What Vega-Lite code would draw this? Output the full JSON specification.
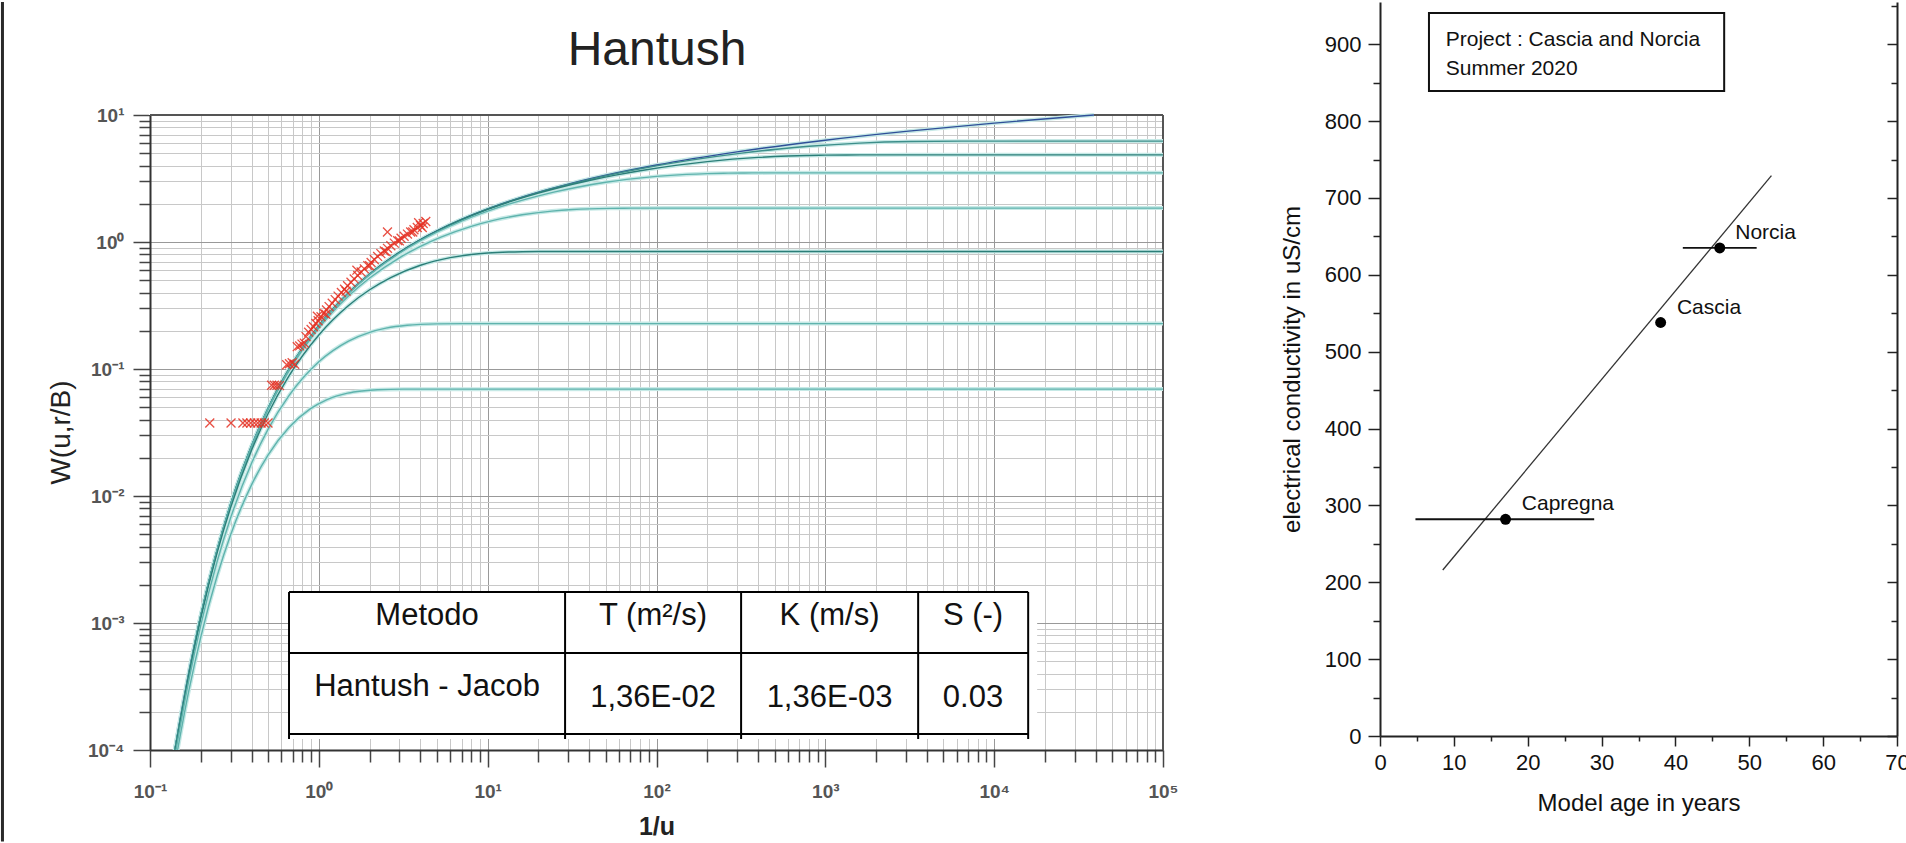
{
  "$schema": "https://vega.github.io/schema/vega-lite/v6.json",
  "background": "white",
  "padding": {"left": 0, "top": 0, "right": 0, "bottom": 0},
  "spacing": 101,
  "config": {"font": "Liberation Sans", "view": {"stroke": null}},
  "datasets": {
    "edge": [{"x": 0.01337, "y": 0.000019, "y2": 77.6}],
    "tbg": [{"x": 0.666, "x2": 17975, "y": 0.0001221, "y2": 0.001754}],
    "cover": [{"x": 0.0985, "x2": 103000, "y": 10, "y2": 77.6}],
    "frame": [{"x": 0.1, "x2": 100000, "y": 10, "y2": 10}, {"x": 100000, "x2": 100000, "y": 0.0001, "y2": 10}],
    "ttl": [{"x": 100.8, "y": 24.76, "t": "Hantush"}],
    "tlines": [
      {"x": 0.666, "x2": 15900, "y": 0.001754, "y2": 0.001754},
      {"x": 0.666, "x2": 15900, "y": 0.000581, "y2": 0.000581},
      {"x": 0.666, "x2": 15900, "y": 0.0001336, "y2": 0.0001336},
      {"x": 0.666, "x2": 0.666, "y": 0.0001221, "y2": 0.001754},
      {"x": 28.74, "x2": 28.74, "y": 0.0001221, "y2": 0.001754},
      {"x": 317, "x2": 317, "y": 0.0001221, "y2": 0.001754},
      {"x": 3546, "x2": 3546, "y": 0.0001221, "y2": 0.001754},
      {"x": 15900, "x2": 15900, "y": 0.0001221, "y2": 0.001754}
    ],
    "ttext": [
      {"x": 4.375, "y": 0.000965, "t": "Metodo"},
      {"x": 95.4, "y": 0.000965, "t": "T (m²/s)"},
      {"x": 1059, "y": 0.000965, "t": "K (m/s)"},
      {"x": 7494, "y": 0.000965, "t": "S (-)"},
      {"x": 4.375, "y": 0.000266, "t": "Hantush - Jacob"},
      {"x": 95.4, "y": 0.000218, "t": "1,36E-02"},
      {"x": 1059, "y": 0.000218, "t": "1,36E-03"},
      {"x": 7494, "y": 0.000218, "t": "0.03"}
    ],
    "curves": [
      {"curve": "Theis", "x": 0.14, "y": 0.0000983}, {"curve": "Theis", "x": 0.15, "y": 0.0001683}, {"curve": "Theis", "x": 0.17, "y": 0.0004123}, {"curve": "Theis", "x": 0.2, "y": 0.0011483}, {"curve": "Theis", "x": 0.25, "y": 0.0037794}, {"curve": "Theis", "x": 0.3, "y": 0.008576}, {"curve": "Theis", "x": 0.4, "y": 0.024915}, {"curve": "Theis", "x": 0.5, "y": 0.048901}, {"curve": "Theis", "x": 0.667, "y": 0.10002}, {"curve": "Theis", "x": 1, "y": 0.219384}, {"curve": "Theis", "x": 1.5, "y": 0.398407}, {"curve": "Theis", "x": 2, "y": 0.559773}, {"curve": "Theis", "x": 3, "y": 0.828887}, {"curve": "Theis", "x": 4, "y": 1.044282}, {"curve": "Theis", "x": 5, "y": 1.222651}, {"curve": "Theis", "x": 7, "y": 1.506607}, {"curve": "Theis", "x": 10, "y": 1.822924}, {"curve": "Theis", "x": 15, "y": 2.196406}, {"curve": "Theis", "x": 20, "y": 2.467898}, {"curve": "Theis", "x": 30, "y": 2.857038}, {"curve": "Theis", "x": 50, "y": 3.3547}, {"curve": "Theis", "x": 100, "y": 4.0379}, {"curve": "Theis", "x": 300, "y": 5.1299}, {"curve": "Theis", "x": 1000, "y": 6.3315}, {"curve": "Theis", "x": 3000, "y": 7.4295}, {"curve": "Theis", "x": 10000, "y": 8.6332}, {"curve": "Theis", "x": 30000, "y": 9.7318}, {"curve": "Theis", "x": 39000, "y": 9.994},

      {"curve": "0.05", "x": 0.14, "y": 0.0000983}, {"curve": "0.05", "x": 0.2, "y": 0.001148}, {"curve": "0.05", "x": 0.3, "y": 0.008576}, {"curve": "0.05", "x": 0.5, "y": 0.0489}, {"curve": "0.05", "x": 1, "y": 0.21933}, {"curve": "0.05", "x": 2, "y": 0.55936}, {"curve": "0.05", "x": 3, "y": 0.82806}, {"curve": "0.05", "x": 5, "y": 1.22086}, {"curve": "0.05", "x": 10, "y": 1.81841}, {"curve": "0.05", "x": 20, "y": 2.457586}, {"curve": "0.05", "x": 30, "y": 2.840771}, {"curve": "0.05", "x": 40, "y": 3.114234}, {"curve": "0.05", "x": 53.3, "y": 3.387699}, {"curve": "0.05", "x": 80, "y": 3.770884}, {"curve": "0.05", "x": 160, "y": 4.41004}, {"curve": "0.05", "x": 320, "y": 5.007606}, {"curve": "0.05", "x": 533, "y": 5.400408}, {"curve": "0.05", "x": 800, "y": 5.669105}, {"curve": "0.05", "x": 1600, "y": 6.009179}, {"curve": "0.05", "x": 3200, "y": 6.179581}, {"curve": "0.05", "x": 6400, "y": 6.224692}, {"curve": "0.05", "x": 11430, "y": 6.22837}, {"curve": "0.05", "x": 100000, "y": 6.22847},

      {"curve": "0.1", "x": 0.14, "y": 0.0000983}, {"curve": "0.1", "x": 0.2, "y": 0.001148}, {"curve": "0.1", "x": 0.3, "y": 0.008571}, {"curve": "0.1", "x": 0.5, "y": 0.048854}, {"curve": "0.1", "x": 0.667, "y": 0.099898}, {"curve": "0.1", "x": 1, "y": 0.219013}, {"curve": "0.1", "x": 2, "y": 0.55814}, {"curve": "0.1", "x": 3, "y": 0.825593}, {"curve": "0.1", "x": 5, "y": 1.2155}, {"curve": "0.1", "x": 7, "y": 1.495262}, {"curve": "0.1", "x": 10, "y": 1.804989}, {"curve": "0.1", "x": 15, "y": 2.167122}, {"curve": "0.1", "x": 20, "y": 2.427069}, {"curve": "0.1", "x": 26.67, "y": 2.687088}, {"curve": "0.1", "x": 40, "y": 3.049221}, {"curve": "0.1", "x": 57.14, "y": 3.358948}, {"curve": "0.1", "x": 80, "y": 3.63871}, {"curve": "0.1", "x": 133.3, "y": 4.028617}, {"curve": "0.1", "x": 200, "y": 4.29607}, {"curve": "0.1", "x": 400, "y": 4.635197}, {"curve": "0.1", "x": 600, "y": 4.754312}, {"curve": "0.1", "x": 800, "y": 4.805356}, {"curve": "0.1", "x": 1000, "y": 4.829315}, {"curve": "0.1", "x": 1600, "y": 4.85044}, {"curve": "0.1", "x": 2000, "y": 4.853062}, {"curve": "0.1", "x": 2857, "y": 4.85411}, {"curve": "0.1", "x": 100000, "y": 4.85421},

      {"curve": "0.2", "x": 0.14, "y": 0.0000982}, {"curve": "0.2", "x": 0.2, "y": 0.001146}, {"curve": "0.2", "x": 0.25, "y": 0.0037714}, {"curve": "0.2", "x": 0.3, "y": 0.008555}, {"curve": "0.2", "x": 0.4, "y": 0.024836}, {"curve": "0.2", "x": 0.5, "y": 0.048713}, {"curve": "0.2", "x": 0.667, "y": 0.099533}, {"curve": "0.2", "x": 1, "y": 0.217905}, {"curve": "0.2", "x": 1.5, "y": 0.39471}, {"curve": "0.2", "x": 2, "y": 0.553284}, {"curve": "0.2", "x": 3, "y": 0.815807}, {"curve": "0.2", "x": 4, "y": 1.023831}, {"curve": "0.2", "x": 5, "y": 1.194376}, {"curve": "0.2", "x": 7, "y": 1.461925}, {"curve": "0.2", "x": 10, "y": 1.752704}, {"curve": "0.2", "x": 14.29, "y": 2.043485}, {"curve": "0.2", "x": 20, "y": 2.311034}, {"curve": "0.2", "x": 25, "y": 2.481579}, {"curve": "0.2", "x": 33.33, "y": 2.689603}, {"curve": "0.2", "x": 50, "y": 2.952126}, {"curve": "0.2", "x": 66.67, "y": 3.1107}, {"curve": "0.2", "x": 100, "y": 3.287505}, {"curve": "0.2", "x": 150, "y": 3.405877}, {"curve": "0.2", "x": 200, "y": 3.456697}, {"curve": "0.2", "x": 250, "y": 3.480574}, {"curve": "0.2", "x": 333, "y": 3.496855}, {"curve": "0.2", "x": 400, "y": 3.501639}, {"curve": "0.2", "x": 500, "y": 3.504264}, {"curve": "0.2", "x": 714, "y": 3.50531}, {"curve": "0.2", "x": 100000, "y": 3.50541},

      {"curve": "0.5", "x": 0.14, "y": 0.0000975}, {"curve": "0.5", "x": 0.17, "y": 0.0004084}, {"curve": "0.5", "x": 0.2, "y": 0.0011359}, {"curve": "0.5", "x": 0.25, "y": 0.0037297}, {"curve": "0.5", "x": 0.3, "y": 0.008444}, {"curve": "0.5", "x": 0.4, "y": 0.024425}, {"curve": "0.5", "x": 0.5, "y": 0.047743}, {"curve": "0.5", "x": 0.667, "y": 0.097023}, {"curve": "0.5", "x": 1, "y": 0.210314}, {"curve": "0.5", "x": 1.5, "y": 0.375924}, {"curve": "0.5", "x": 2, "y": 0.520621}, {"curve": "0.5", "x": 3, "y": 0.751131}, {"curve": "0.5", "x": 4, "y": 0.92442}, {"curve": "0.5", "x": 5.333, "y": 1.097679}, {"curve": "0.5", "x": 8, "y": 1.328189}, {"curve": "0.5", "x": 10.667, "y": 1.472886}, {"curve": "0.5", "x": 16, "y": 1.638496}, {"curve": "0.5", "x": 24, "y": 1.751787}, {"curve": "0.5", "x": 32, "y": 1.801067}, {"curve": "0.5", "x": 40, "y": 1.824385}, {"curve": "0.5", "x": 53.33, "y": 1.840366}, {"curve": "0.5", "x": 64, "y": 1.84508}, {"curve": "0.5", "x": 80, "y": 1.847674}, {"curve": "0.5", "x": 114.3, "y": 1.848712}, {"curve": "0.5", "x": 100000, "y": 1.84881},

      {"curve": "1", "x": 0.14, "y": 0.0000953}, {"curve": "1", "x": 0.17, "y": 0.0003971}, {"curve": "1", "x": 0.2, "y": 0.0010996}, {"curve": "1", "x": 0.25, "y": 0.0035849}, {"curve": "1", "x": 0.3, "y": 0.008061}, {"curve": "1", "x": 0.4, "y": 0.023014}, {"curve": "1", "x": 0.5, "y": 0.044436}, {"curve": "1", "x": 0.667, "y": 0.088591}, {"curve": "1", "x": 1, "y": 0.185476}, {"curve": "1", "x": 1.5, "y": 0.316636}, {"curve": "1", "x": 2, "y": 0.42102}, {"curve": "1", "x": 2.667, "y": 0.525374}, {"curve": "1", "x": 4, "y": 0.656534}, {"curve": "1", "x": 6, "y": 0.753419}, {"curve": "1", "x": 8, "y": 0.797574}, {"curve": "1", "x": 10, "y": 0.818996}, {"curve": "1", "x": 13.33, "y": 0.833949}, {"curve": "1", "x": 16, "y": 0.838425}, {"curve": "1", "x": 20, "y": 0.84091}, {"curve": "1", "x": 28.57, "y": 0.841915}, {"curve": "1", "x": 100000, "y": 0.84201},

      {"curve": "2", "x": 0.14, "y": 0.0000869}, {"curve": "2", "x": 0.17, "y": 0.0003549}, {"curve": "2", "x": 0.2, "y": 0.0009655}, {"curve": "2", "x": 0.25, "y": 0.0030602}, {"curve": "2", "x": 0.3, "y": 0.006701}, {"curve": "2", "x": 0.4, "y": 0.018165}, {"curve": "2", "x": 0.5, "y": 0.03343}, {"curve": "2", "x": 0.667, "y": 0.061908}, {"curve": "2", "x": 1, "y": 0.11389}, {"curve": "2", "x": 1.5, "y": 0.16587}, {"curve": "2", "x": 2, "y": 0.19435}, {"curve": "2", "x": 2.5, "y": 0.20962}, {"curve": "2", "x": 3.333, "y": 0.22108}, {"curve": "2", "x": 4, "y": 0.22472}, {"curve": "2", "x": 5, "y": 0.22681}, {"curve": "2", "x": 7.143, "y": 0.22769}, {"curve": "2", "x": 100000, "y": 0.22778},

      {"curve": "3", "x": 0.14, "y": 0.0000746}, {"curve": "3", "x": 0.17, "y": 0.0002943}, {"curve": "3", "x": 0.2, "y": 0.000778}, {"curve": "3", "x": 0.25, "y": 0.0023533}, {"curve": "3", "x": 0.3, "y": 0.00494}, {"curve": "3", "x": 0.4, "y": 0.012303}, {"curve": "3", "x": 0.5, "y": 0.020993}, {"curve": "3", "x": 0.667, "y": 0.03474}, {"curve": "3", "x": 0.889, "y": 0.048487}, {"curve": "3", "x": 1.111, "y": 0.057177}, {"curve": "3", "x": 1.481, "y": 0.06454}, {"curve": "3", "x": 1.8, "y": 0.067127}, {"curve": "3", "x": 2.222, "y": 0.0687}, {"curve": "3", "x": 3.17, "y": 0.06941}, {"curve": "3", "x": 100000, "y": 0.06948}
    ],
    "obs": [
      {"x": 0.226, "y": 0.0376}, {"x": 0.302, "y": 0.0376}, {"x": 0.355, "y": 0.0376}, {"x": 0.375, "y": 0.0376}, {"x": 0.395, "y": 0.0376}, {"x": 0.415, "y": 0.0376}, {"x": 0.435, "y": 0.0376}, {"x": 0.455, "y": 0.0376}, {"x": 0.475, "y": 0.0376}, {"x": 0.5, "y": 0.0376},
      {"x": 0.525, "y": 0.0745}, {"x": 0.545, "y": 0.0745}, {"x": 0.565, "y": 0.0745}, {"x": 0.585, "y": 0.074},
      {"x": 0.645, "y": 0.108}, {"x": 0.67, "y": 0.11}, {"x": 0.695, "y": 0.112}, {"x": 0.72, "y": 0.109},
      {"x": 0.745, "y": 0.15}, {"x": 0.77, "y": 0.152}, {"x": 0.795, "y": 0.157}, {"x": 0.82, "y": 0.16},
      {"x": 0.84, "y": 0.18}, {"x": 0.87, "y": 0.195}, {"x": 0.9, "y": 0.205}, {"x": 0.93, "y": 0.215}, {"x": 0.96, "y": 0.228}, {"x": 0.99, "y": 0.24}, {"x": 1.03, "y": 0.258}, {"x": 1.07, "y": 0.275}, {"x": 1.11, "y": 0.292}, {"x": 1.15, "y": 0.31}, {"x": 1.2, "y": 0.33}, {"x": 1.25, "y": 0.352}, {"x": 1.3, "y": 0.375}, {"x": 1.36, "y": 0.4}, {"x": 1.42, "y": 0.425}, {"x": 1.48, "y": 0.452}, {"x": 1.55, "y": 0.482}, {"x": 1.62, "y": 0.512}, {"x": 1.7, "y": 0.545}, {"x": 1.78, "y": 0.58}, {"x": 1.86, "y": 0.615}, {"x": 1.95, "y": 0.652}, {"x": 2.04, "y": 0.69}, {"x": 2.13, "y": 0.728}, {"x": 2.23, "y": 0.77}, {"x": 2.33, "y": 0.81}, {"x": 2.44, "y": 0.85}, {"x": 2.55, "y": 0.892}, {"x": 2.67, "y": 0.935}, {"x": 2.8, "y": 0.98}, {"x": 2.93, "y": 1.025}, {"x": 3.07, "y": 1.07}, {"x": 3.2, "y": 1.11}, {"x": 3.35, "y": 1.155}, {"x": 3.5, "y": 1.2}, {"x": 3.66, "y": 1.25}, {"x": 3.83, "y": 1.3}, {"x": 4.0, "y": 1.35}, {"x": 4.15, "y": 1.4}, {"x": 4.3, "y": 1.45},
      {"x": 1.1, "y": 0.27}, {"x": 1.45, "y": 0.41}, {"x": 2.0, "y": 0.65}, {"x": 2.5, "y": 0.84}, {"x": 3.0, "y": 1.02}, {"x": 3.6, "y": 1.2}, {"x": 2.55, "y": 1.2}, {"x": 4.1, "y": 1.3}, {"x": 3.9, "y": 1.42}, {"x": 0.98, "y": 0.26}, {"x": 1.68, "y": 0.6}
    ],
    "reg": [{"x": 8.5, "y": 216}, {"x": 53, "y": 729}],
    "err": [{"x": 4.8, "x2": 29, "y": 282}, {"x": 41, "x2": 51, "y": 635}],
    "pts": [{"x": 17, "y": 282, "name": "Capregna"}, {"x": 38, "y": 538, "name": "Cascia"}, {"x": 46, "y": 635, "name": "Norcia"}],
    "lbl": [{"x": 19.2, "y": 294, "name": "Capregna"}, {"x": 40.2, "y": 549, "name": "Cascia"}, {"x": 48.1, "y": 647, "name": "Norcia"}],
    "box": [{"x": 6.63, "x2": 46.6, "y": 839.2, "y2": 940.7}],
    "boxtxt": [{"x": 8.9, "y": 897.7, "t": "Project : Cascia and Norcia"}, {"x": 8.9, "y": 860, "t": "Summer 2020"}]
  },
  "hconcat": [
    {
      "width": 1013,
      "height": 748,
      "encoding": {
        "x": {
          "field": "x", "type": "quantitative",
          "scale": {"type": "log", "domain": [0.1, 100000], "nice": false},
          "axis": {
            "title": "1/u", "titleFontSize": 25, "titleFontWeight": "bold", "titleColor": "#222", "titleBaseline": "middle", "titleY": 76,
            "values": [0.1, 0.2, 0.3, 0.4, 0.5, 0.6, 0.7, 0.8, 0.9, 1, 2, 3, 4, 5, 6, 7, 8, 9, 10, 20, 30, 40, 50, 60, 70, 80, 90, 100, 200, 300, 400, 500, 600, 700, 800, 900, 1000, 2000, 3000, 4000, 5000, 6000, 7000, 8000, 9000, 10000, 20000, 30000, 40000, 50000, 60000, 70000, 80000, 90000, 100000],
            "labelExpr": "abs(log(datum.value)/LN10 - round(log(datum.value)/LN10)) < 0.001 ? '10' + ['⁻⁴','⁻³','⁻²','⁻¹','⁰','¹','²','³','⁴','⁵'][round(log(datum.value)/LN10) + 4] : ''",
            "labelFontSize": 19, "labelFontWeight": "bold", "labelColor": "#555", "labelPadding": 15, "labelOverlap": false, "labelFlush": false, "labelBound": false,
            "tickSize": {"condition": {"test": "abs(log(datum.value)/LN10 - round(log(datum.value)/LN10)) < 0.001", "value": 17}, "value": 12},
            "tickColor": "#444", "tickWidth": 1.5,
            "grid": true,
            "gridColor": {"condition": {"test": "abs(log(datum.value)/LN10 - round(log(datum.value)/LN10)) < 0.001", "value": "#999999"}, "value": "#c8c8c8"},
            "gridWidth": 1,
            "domainColor": "#333", "domainWidth": 2
          }
        },
        "y": {
          "field": "y", "type": "quantitative",
          "scale": {"type": "log", "domain": [0.0001, 77.6], "nice": false},
          "axis": {
            "title": "W(u,r/B)", "titleFontSize": 28, "titleFontWeight": "normal", "titleColor": "#222", "titleAngle": -90, "titleBaseline": "middle", "titleAlign": "center", "titleX": -89, "titleY": 430,
            "values": [0.0001, 0.0002, 0.0003, 0.0004, 0.0005, 0.0006, 0.0007, 0.0008, 0.0009, 0.001, 0.002, 0.003, 0.004, 0.005, 0.006, 0.007, 0.008, 0.009, 0.01, 0.02, 0.03, 0.04, 0.05, 0.06, 0.07, 0.08, 0.09, 0.1, 0.2, 0.3, 0.4, 0.5, 0.6, 0.7, 0.8, 0.9, 1, 2, 3, 4, 5, 6, 7, 8, 9, 10],
            "labelExpr": "abs(log(datum.value)/LN10 - round(log(datum.value)/LN10)) < 0.001 ? '10' + ['⁻⁴','⁻³','⁻²','⁻¹','⁰','¹','²','³','⁴','⁵'][round(log(datum.value)/LN10) + 4] : ''",
            "labelFontSize": 19, "labelFontWeight": "bold", "labelColor": "#555", "labelPadding": 9, "labelOverlap": false, "labelFlush": false, "labelBound": false,
            "tickSize": {"condition": {"test": "abs(log(datum.value)/LN10 - round(log(datum.value)/LN10)) < 0.001", "value": 17}, "value": 11},
            "tickColor": "#444", "tickWidth": 1.5,
            "grid": true,
            "gridColor": {"condition": {"test": "abs(log(datum.value)/LN10 - round(log(datum.value)/LN10)) < 0.001", "value": "#999999"}, "value": "#c8c8c8"},
            "gridWidth": 1,
            "domainColor": "#333", "domainWidth": 2
          }
        }
      },
      "layer": [
        {"data": {"name": "edge"}, "mark": {"type": "rule", "color": "#2a2a2a", "strokeWidth": 3}, "encoding": {"y2": {"field": "y2"}}},
        {"data": {"name": "tbg"}, "mark": {"type": "rect", "fill": "white"}, "encoding": {"x2": {"field": "x2"}, "y2": {"field": "y2"}}},
        {"data": {"name": "cover"}, "mark": {"type": "rect", "fill": "white"}, "encoding": {"x2": {"field": "x2"}, "y2": {"field": "y2"}}},
        {"data": {"name": "frame"}, "mark": {"type": "rule", "color": "#555", "strokeWidth": 2}, "encoding": {"x2": {"field": "x2"}, "y2": {"field": "y2"}}},
        {"data": {"name": "curves"}, "mark": {"type": "line", "clip": true, "strokeWidth": 4, "color": "#c6e9e6", "interpolate": "monotone"}, "encoding": {"detail": {"field": "curve", "type": "nominal"}}},
        {"data": {"name": "curves"}, "mark": {"type": "line", "clip": true, "strokeWidth": 1.4, "interpolate": "monotone"}, "encoding": {"color": {"field": "curve", "type": "nominal", "scale": {"domain": ["Theis", "0.05", "0.1", "0.2", "0.5", "1", "2", "3"], "range": ["#2f4f98", "#3d8e8a", "#2b7e78", "#5fb3ad", "#5fb3ad", "#2b7e78", "#5fb3ad", "#5fb3ad"]}, "legend": null}}},
        {"data": {"name": "obs"}, "mark": {"type": "point", "shape": "M-1,-1L1,1M-1,1L1,-1", "filled": false, "color": "#e53224", "strokeWidth": 1.3, "size": 80, "opacity": 0.85}},
        {"data": {"name": "tlines"}, "mark": {"type": "rule", "color": "#000", "strokeWidth": 2}, "encoding": {"x2": {"field": "x2"}, "y2": {"field": "y2"}}},
        {"data": {"name": "ttext"}, "mark": {"type": "text", "fontSize": 31, "align": "center", "baseline": "alphabetic", "color": "#111"}, "encoding": {"text": {"field": "t"}}},
        {"data": {"name": "ttl"}, "mark": {"type": "text", "fontSize": 48, "align": "center", "baseline": "alphabetic", "color": "#222"}, "encoding": {"text": {"field": "t"}}}
      ]
    },
    {
      "width": 517,
      "height": 734,
      "resolve": {"scale": {"y": "independent"}, "axis": {"y": "independent"}},
      "encoding": {
        "x": {
          "field": "x", "type": "quantitative",
          "scale": {"domain": [0, 70], "nice": false, "zero": false},
          "axis": {
            "values": [0, 5, 10, 15, 20, 25, 30, 35, 40, 45, 50, 55, 60, 65, 70],
            "labelExpr": "datum.value % 10 == 0 ? datum.label : ''",
            "tickSize": {"condition": {"test": "datum.value % 10 == 0", "value": 10}, "value": 5},
            "tickColor": "#222", "tickWidth": 1.5, "domainColor": "#222", "domainWidth": 2,
            "labelFontSize": 22, "labelColor": "#111", "labelPadding": 6, "labelFlush": false, "labelOverlap": false, "labelBound": false,
            "grid": false,
            "title": "Model age in years", "titleFontSize": 24, "titleFontWeight": "normal", "titleColor": "#111", "titleBaseline": "middle", "titleY": 67
          }
        }
      },
      "layer": [
        {"data": {"name": "box"}, "mark": {"type": "rect", "fill": "white", "stroke": "#111", "strokeWidth": 2},
         "encoding": {"x2": {"field": "x2"},
           "y": {"field": "y", "type": "quantitative", "scale": {"domain": [0, 955], "nice": false, "zero": false},
             "axis": {"orient": "right", "values": [0, 50, 100, 150, 200, 250, 300, 350, 400, 450, 500, 550, 600, 650, 700, 750, 800, 850, 900, 950], "labels": false, "title": null, "grid": false,
               "tickSize": {"condition": {"test": "datum.value % 100 == 0", "value": -10}, "value": -6}, "tickColor": "#222", "tickWidth": 1.5, "domainColor": "#222", "domainWidth": 2}},
           "y2": {"field": "y2"}}},
        {"data": {"name": "reg"}, "mark": {"type": "line", "color": "#333", "strokeWidth": 1.3},
         "encoding": {"y": {"field": "y", "type": "quantitative", "scale": {"domain": [0, 955], "nice": false, "zero": false},
           "axis": {"orient": "left", "values": [0, 50, 100, 150, 200, 250, 300, 350, 400, 450, 500, 550, 600, 650, 700, 750, 800, 850, 900],
             "labelExpr": "datum.value % 100 == 0 ? datum.label : ''",
             "tickSize": {"condition": {"test": "datum.value % 100 == 0", "value": 12}, "value": 7},
             "tickColor": "#222", "tickWidth": 1.5, "domainColor": "#222", "domainWidth": 2,
             "labelFontSize": 22, "labelColor": "#111", "labelPadding": 7, "labelOverlap": false, "labelFlush": false, "labelBound": false, "grid": false,
             "title": "electrical conductivity in uS/cm", "titleFontSize": 24, "titleFontWeight": "normal", "titleColor": "#111", "titleAngle": -90, "titleBaseline": "middle", "titleAlign": "center", "titleX": -88, "titleY": 367}}}},
        {"data": {"name": "err"}, "mark": {"type": "rule", "color": "#111", "strokeWidth": 1.8},
         "encoding": {"x2": {"field": "x2"}, "y": {"field": "y", "type": "quantitative", "scale": {"domain": [0, 955], "nice": false, "zero": false}, "axis": null}}},
        {"data": {"name": "pts"}, "mark": {"type": "circle", "color": "#000", "opacity": 1, "size": 120},
         "encoding": {"y": {"field": "y", "type": "quantitative", "scale": {"domain": [0, 955], "nice": false, "zero": false}, "axis": null}}},
        {"data": {"name": "lbl"}, "mark": {"type": "text", "fontSize": 21, "align": "left", "baseline": "alphabetic", "color": "#111"},
         "encoding": {"y": {"field": "y", "type": "quantitative", "scale": {"domain": [0, 955], "nice": false, "zero": false}, "axis": null}, "text": {"field": "name"}}},
        {"data": {"name": "boxtxt"}, "mark": {"type": "text", "fontSize": 21, "align": "left", "baseline": "alphabetic", "color": "#111"},
         "encoding": {"y": {"field": "y", "type": "quantitative", "scale": {"domain": [0, 955], "nice": false, "zero": false}, "axis": null}, "text": {"field": "t"}}}
      ]
    }
  ]
}
